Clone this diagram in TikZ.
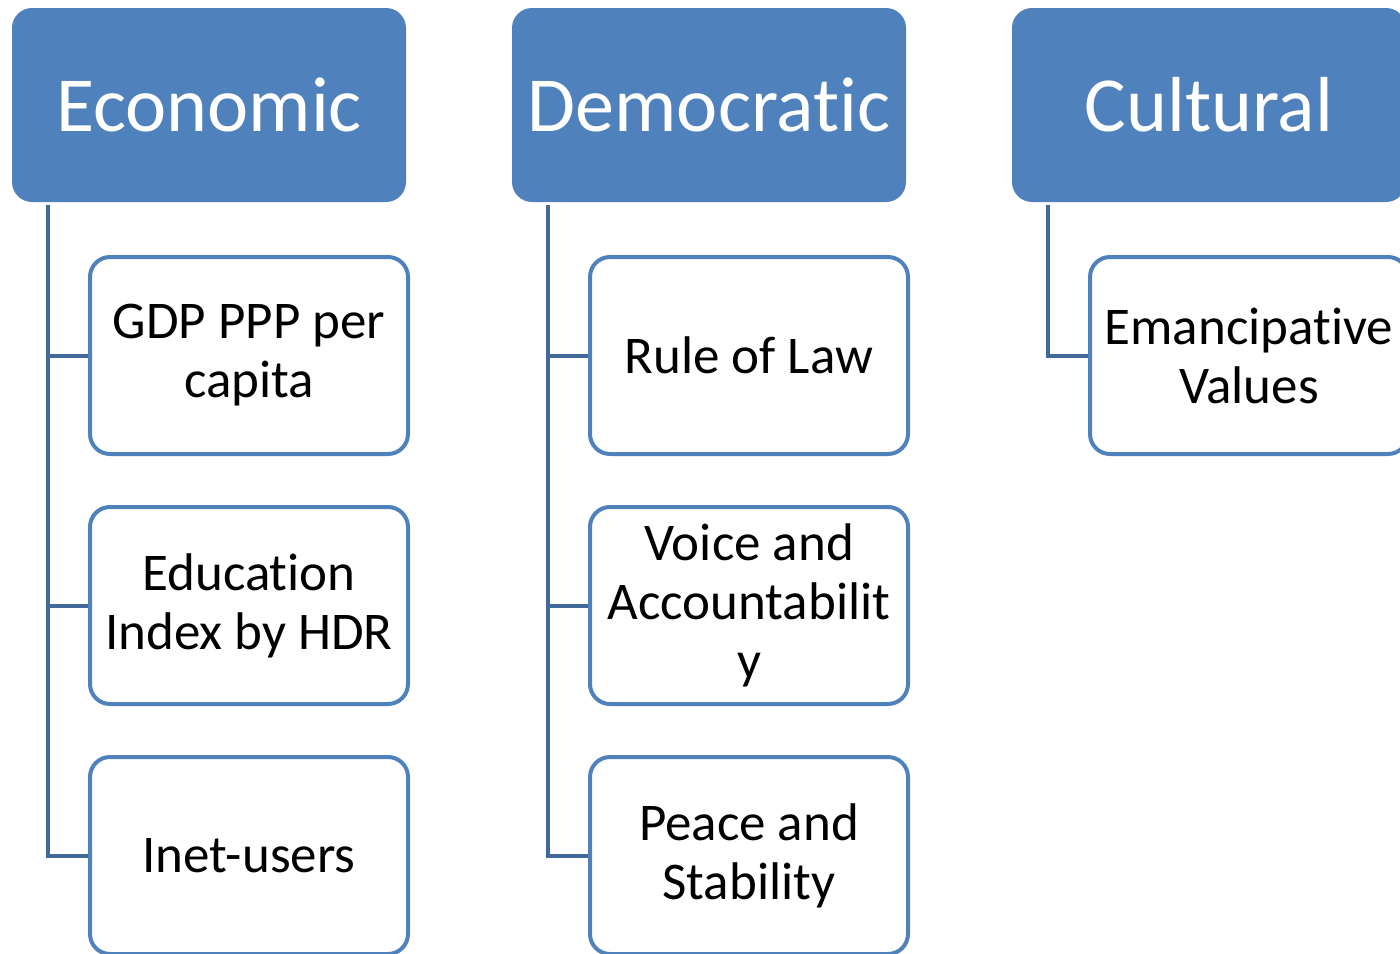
\documentclass[tikz,border=0pt]{standalone}
\usepackage{fontspec}
\setmainfont{Carlito}[Ligatures={NoCommon}]
\definecolor{headblue}{HTML}{4F81BD}
\definecolor{linkblue}{HTML}{41699A}
\tikzstyle{head}=[fill=headblue, rounded corners=20pt, minimum width=394pt, minimum height=194pt, inner sep=0pt, text=white, font=\fontsize{78}{90}\selectfont]
\tikzstyle{item}=[draw=headblue, line width=4pt, fill=white, rounded corners=20pt, minimum width=318pt, minimum height=197pt, inner sep=0pt, align=center, font=\fontsize{53}{59}\selectfont]
\tikzstyle{branch}=[draw=linkblue, line width=4pt]

\begin{document}
\begin{tikzpicture}[x=1pt, y=-1pt]
      \useasboundingbox (0, 0) rectangle (1400, 953);
      % headers
      \node[head] (eco) at (209, 105) {Economic};
      \node[head] (dem) at (709, 105) {Democratic};
      \node[head] (cul) at (1209, 105) {Cultural};
      % economic items
      \node[item] (gdp) at (249, 355.5) {GDP PPP per\\capita};
      \node[item] (edu) at (249, 605.5) {Education\\Index by HDR};
      \node[item] (inet) at (249, 855.5) {Inet-users};
      % democratic items
      \node[item] (law) at (749, 355.5) {Rule of Law};
      \node[item] (voice) at (749, 605.5) {Voice and\\Accountabilit\\y};
      \node[item] (peace) at (749, 855.5) {Peace and\\Stability};
      % cultural item
      \node[item] (eman) at (1249, 355.5) {Emancipative\\Values};
      % branches
      \draw[branch] ([xshift=-161pt, yshift=-3pt]eco.south) |- (gdp.west);
      \draw[branch] ([xshift=-161pt, yshift=-3pt]eco.south) |- (edu.west);
      \draw[branch] ([xshift=-161pt, yshift=-3pt]eco.south) |- (inet.west);
      \draw[branch] ([xshift=-161pt, yshift=-3pt]dem.south) |- (law.west);
      \draw[branch] ([xshift=-161pt, yshift=-3pt]dem.south) |- (voice.west);
      \draw[branch] ([xshift=-161pt, yshift=-3pt]dem.south) |- (peace.west);
      \draw[branch] ([xshift=-161pt, yshift=-3pt]cul.south) |- (eman.west);
    \end{tikzpicture}
\end{document}
